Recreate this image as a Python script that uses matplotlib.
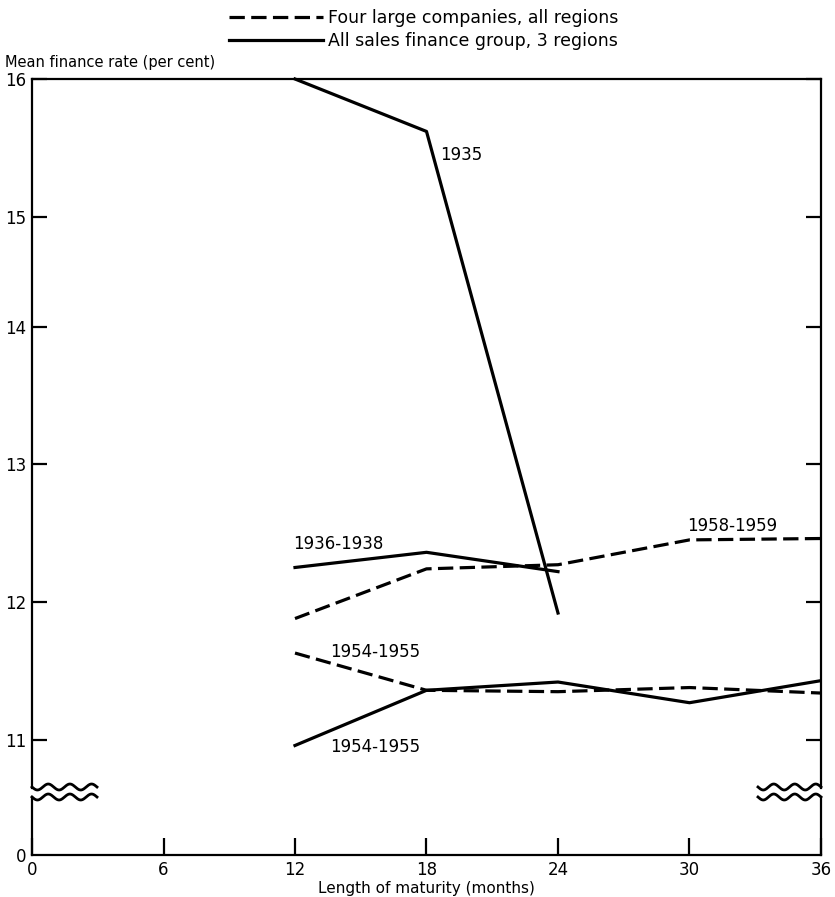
import numpy as np
import matplotlib
matplotlib.use("Agg")
import matplotlib.pyplot as plt
from matplotlib.lines import Line2D

# ---- data ----
months_full = [12, 18, 24, 30, 36]
months_short = [12, 18, 24]

four_large_1958_1959 = [11.88, 12.24, 12.27, 12.45, 12.46]
four_large_1954_1955 = [11.63, 11.36, 11.35, 11.38, 11.34]

all_sales_1935 = [16.0, 15.62, 11.92]
all_sales_1936_1938 = [12.25, 12.36, 12.22]
all_sales_1954_1955 = [10.96, 11.36, 11.42, 11.27, 11.43]

x_ticks = [0, 6, 12, 18, 24, 30, 36]
y_ticks = [11, 12, 13, 14, 15, 16]

legend_labels = ["Four large companies, all regions",
                 "All sales finance group, 3 regions"]

# ---- axis scale of the original (tick spacing is not uniform in the drawing) ----
scale_vals = np.array([11, 12, 13, 14, 15, 16], float)
scale_pos = np.array([0.0, 1.0, 2.0, 2.99, 3.79, 4.79])


def fwd(v):
    v = np.asarray(v, float)
    out = np.interp(v, scale_vals, scale_pos)
    out = np.where(v < scale_vals[0], scale_pos[0] + (v - scale_vals[0]), out)
    out = np.where(v > scale_vals[-1], scale_pos[-1] + (v - scale_vals[-1]), out)
    return out


def inv(p):
    p = np.asarray(p, float)
    out = np.interp(p, scale_pos, scale_vals)
    out = np.where(p < scale_pos[0], scale_vals[0] + (p - scale_pos[0]), out)
    out = np.where(p > scale_pos[-1], scale_vals[-1] + (p - scale_pos[-1]), out)
    return out


W, H = 835, 897
fig = plt.figure(figsize=(W / 100, H / 100), dpi=100)
plt.rcParams['font.family'] = ['DejaVu Sans']

L, R = 32, 821
top, brk_top, brk_bot, bottom = 79, 788, 797, 855

ax = fig.add_axes([L / W, (H - brk_top) / H, (R - L) / W, (brk_top - top) / H])
ax2 = fig.add_axes([L / W, (H - bottom) / H, (R - L) / W, (bottom - brk_bot) / H])

ax.set_yscale('function', functions=(fwd, inv))
ax.set_ylim(10.652, 16.0)
ax.set_xlim(0, 36)
ax2.set_xlim(0, 36)
ax2.set_ylim(0, 1)

lw = 2.3
dash = (0, (4.8, 2.0))
col = 'black'

l_dash, = ax.plot(months_full, four_large_1958_1959, color=col, lw=lw, ls=dash)
ax.plot(months_full, four_large_1954_1955, color=col, lw=lw, ls=dash)
l_solid, = ax.plot(months_short, all_sales_1935, color=col, lw=lw, clip_on=False)
ax.plot(months_short, all_sales_1936_1938, color=col, lw=lw)
ax.plot(months_full, all_sales_1954_1955, color=col, lw=lw)

# annotations
fs_ann = 12
ax.text(18.6, 15.45, "1935", fontsize=fs_ann, va='center', ha='left')
ax.text(11.9, 12.42, "1936-1938", fontsize=fs_ann, va='center', ha='left')
ax.text(29.9, 12.55, "1958-1959", fontsize=fs_ann, va='center', ha='left')
ax.text(13.6, 11.64, "1954-1955", fontsize=fs_ann, va='center', ha='left')
ax.text(13.6, 10.95, "1954-1955", fontsize=fs_ann, va='center', ha='left')

# spines and ticks
spw = 1.6
for a in (ax, ax2):
    for s in a.spines.values():
        s.set_linewidth(spw)
ax.spines['bottom'].set_visible(False)
ax2.spines['top'].set_visible(False)

ax.set_yticks(y_ticks)
ax.set_yticklabels([str(t) for t in y_ticks])
ax.yaxis.set_minor_locator(matplotlib.ticker.NullLocator())
ax.tick_params(axis='y', direction='in', length=11, width=1.6, left=True, right=True,
               labelsize=12, pad=4)
ax.tick_params(axis='x', bottom=False, top=False, labelbottom=False)

ax2.set_yticks([0])
ax2.set_yticklabels(['0'])
ax2.tick_params(axis='y', direction='in', length=0, labelsize=12, pad=4)
ax2.set_xticks(x_ticks)
ax2.set_xticklabels([str(t) for t in x_ticks])
ax2.tick_params(axis='x', direction='in', length=12, width=1.6, labelsize=12, pad=4)
ax2.set_xlabel("Length of maturity (months)", fontsize=11, labelpad=2)

fig.text(5 / W, 1 - 63 / H, "Mean finance rate (per cent)", fontsize=10.5,
         va='center', ha='left')

# axis break marks (wavy lines)
def wave(x0, x1, y):
    xs = np.linspace(x0, x1, 200)
    ys = y + 3.0 * np.sin((xs - x0) / (x1 - x0) * 3 * 2 * np.pi)
    return xs / W, 1 - ys / H

for (x0, x1) in [(L, 97), (758, R)]:
    for y in (787, 797):
        xs, ys = wave(x0, x1, y)
        fig.add_artist(Line2D(xs, ys, color='black', lw=2.0, transform=fig.transFigure))

# legend
fig.legend([l_dash, l_solid], legend_labels, loc='upper left',
           bbox_to_anchor=(222 / W, 1 - 2 / H), frameon=False, fontsize=12.5,
           handlelength=5.4, handletextpad=0.3, labelspacing=0.3,
           borderaxespad=0)

fig.savefig("out.png", dpi=100)
